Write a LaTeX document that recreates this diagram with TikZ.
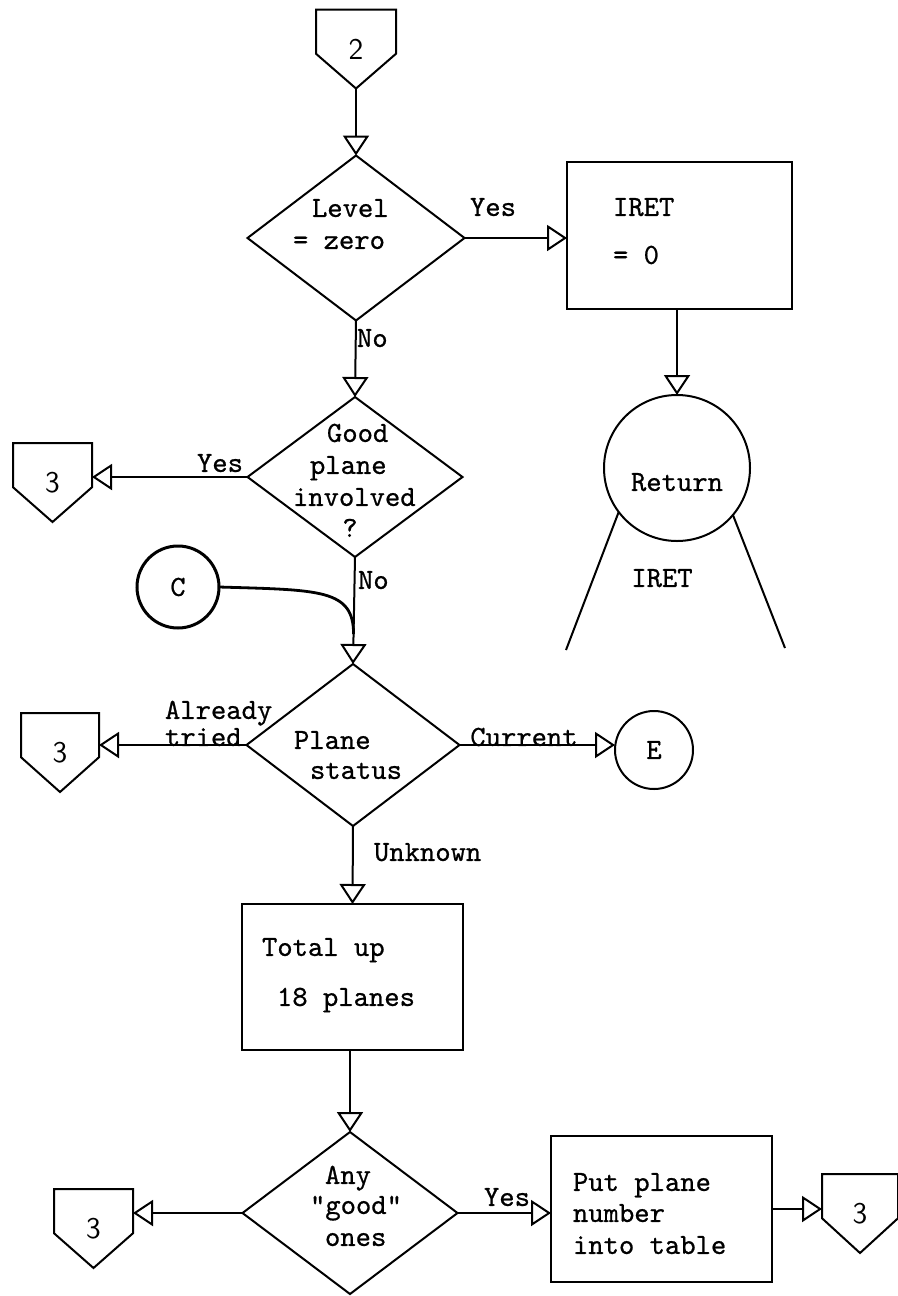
\documentclass[tikz,border=0pt]{standalone}
\usepackage{fontspec}
\newfontfamily\twfont{lmmono10-regular.otf}[FakeBold=0.7]
\usetikzlibrary{arrows.meta,shapes.geometric,calc}
\begin{document}
\begin{tikzpicture}[x=0.5pt,y=-0.5pt,line width=1pt,
  every node/.style={inner sep=0pt,outer sep=0pt},
  txt/.style={font=\fontsize{14.6}{16}\selectfont\twfont,text height=8.9pt,text depth=0pt},
  dgm/.style={diamond,draw,minimum width=#1},
  boxnode/.style={rectangle,draw},
  circnode/.style={circle,draw},
  opg/.style={minimum width=40pt,minimum height=39.5pt,font=\fontsize{15}{16}\selectfont\sffamily},
  arr/.style={-{Triangle[open,length=10pt,width=13pt,line width=1pt]}}]
\useasboundingbox (0,0) rectangle (898,1296);
\newcommand\offpg[5]{%
  \node[opg,minimum width=#5] (#1) at (#2,#3) {#4};
  \draw (#1.north west) -- (#1.north east) -- ($(#1.north east)!0.56!(#1.south east)$)
        -- (#1.south) -- ($(#1.north west)!0.56!(#1.south west)$) -- cycle;}

% off-page connectors
\offpg{P2}{356}{49}{2}{40pt}
\offpg{P3a}{52.5}{482.5}{3}{39.5pt}
\offpg{P3b}{60}{752.5}{3}{39pt}
\offpg{P3c}{93.5}{1228.5}{3}{39.5pt}
\offpg{P3d}{860}{1213.5}{3}{38pt}

% decisions
\node[dgm=108.5pt,minimum height=82.5pt] (D1) at (356,238) {};
\node[dgm=107.5pt,minimum height=80pt] (D2) at (355,477) {};
\node[dgm=106.5pt,minimum height=81pt] (D3) at (353,745) {};
\node[dgm=107.5pt,minimum height=81pt] (D4) at (350,1213) {};

% boxes
\node[boxnode,minimum width=112.5pt,minimum height=73.5pt] (B1) at (679.5,235.5) {};
\node[boxnode,minimum width=110.5pt,minimum height=73pt] (B2) at (352.5,977) {};
\node[boxnode,minimum width=110.5pt,minimum height=73pt] (B3) at (661.5,1209) {};

% circles
\node[circnode,minimum size=73pt] (R) at (677,468) {};
\node[circnode,minimum size=39pt,txt] (E) at (654,750) {E};
\node[circnode,minimum size=41pt,line width=1.5pt,txt] (C) at (178,587) {C};

% texts inside shapes
\node[txt,anchor=west] (t1a) at (312,208) {Level};
\node[txt,anchor=west] (t1b) at (293,240) {= zero};
\node[txt,anchor=west] (t2a) at (327,433) {Good};
\node[txt,anchor=west] (t2b) at (310,465) {plane};
\node[txt,anchor=west] (t2c) at (293,497) {involved};
\node[txt] (t2d) at (350,528) {?};
\node[txt,anchor=west] (t3a) at (294,740) {Plane};
\node[txt,anchor=west] (t3b) at (310,770) {status};
\node[txt,anchor=west] (t4a) at (325,1175) {Any};
\node[txt] (t4b) at (356,1205) {"good"};
\node[txt,anchor=west] (t4c) at (325,1237) {ones};
\node[txt,anchor=west] (b1a) at (613,207) {IRET};
\node[txt,anchor=west] (b1b) at (613,255) {= 0};
\node[txt,anchor=west] (b2a) at (262,947) {Total up};
\node[txt,anchor=west] (b2b) at (277,997) {18 planes};
\node[txt,anchor=west] (b3a) at (573,1182) {Put plane};
\node[txt,anchor=west] (b3b) at (573,1213) {number};
\node[txt,anchor=west] (b3c) at (573,1245) {into table};
\node[txt] (rt) at (677,482) {Return};
\node[txt] (ri) at (662,578) {IRET};

% connector labels
\node[txt] (l1) at (493,207) {Yes};
\node[txt,anchor=west] (l2) at (357,338) {No};
\node[txt,anchor=east] (l3) at (243,463) {Yes};
\node[txt,anchor=west] (l4) at (358,580) {No};
\node[txt,anchor=west] (l5) at (165,710) {Already};
\node[txt,anchor=west] (l6) at (165,737) {tried};
\node[txt] (l7) at (524,737) {Current};
\node[txt,anchor=west] (l8) at (374,852) {Unknown};
\node[txt] (l9) at (507,1197) {Yes};

% connectors
\draw[arr] (P2.south) -- (D1.north);
\draw[arr] (D1.east) -- (D1.east -| B1.west);
\draw[arr] (R.north |- B1.south) -- (R.north);
\draw[arr] (D1.south) -- (D2.north);
\draw[arr] (D2.west) -- (D2.west -| P3a.east);
\draw[arr] (D2.south) -- (D3.north);
\coordinate (merge) at ($(D2.south)!0.72!(D3.north)$);
\draw[line width=1.4pt] (C.east) .. controls (320,590) and ($(merge)+(0,-45)$) .. (merge);
\draw[arr] (D3.west) -- (D3.west -| P3b.east);
\draw[arr] (D3.east) -- (D3.east -| E.west);
\draw[arr] (D3.south) -- (B2.north);
\draw[arr] (D4.north |- B2.south) -- (D4.north);
\draw[arr] (D4.west) -- (D4.west -| P3c.east);
\draw[arr] (D4.east) -- (D4.east -| B3.west);
\draw[arr] (B3.east) -- (B3.east -| P3d.west);

% return fan lines
\coordinate (rl) at (566,650);
\coordinate (rr) at (785,648);
\draw (R.217) -- (rl);
\draw (R.320) -- (rr);
\end{tikzpicture}
\end{document}
